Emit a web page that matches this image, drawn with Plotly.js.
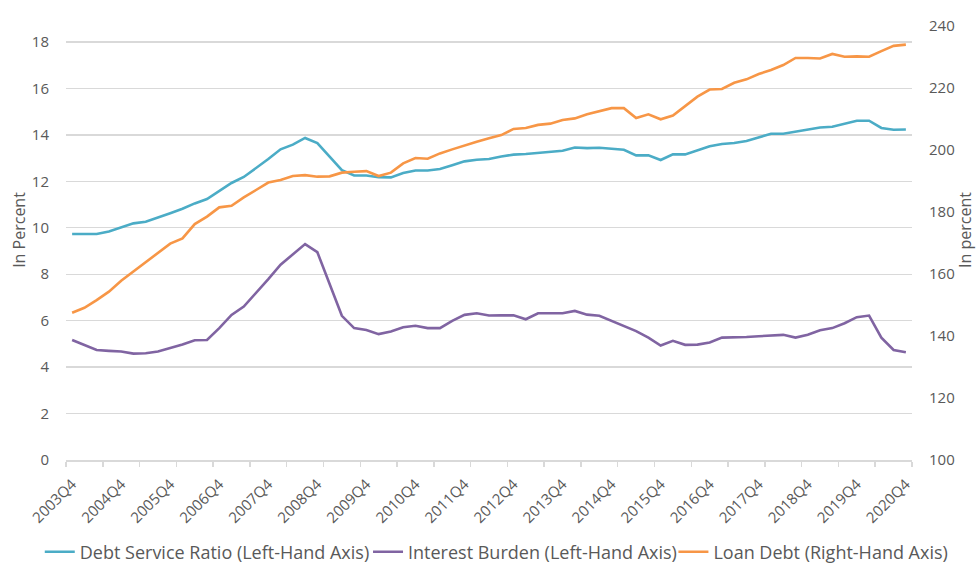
<!DOCTYPE html>
<html>
<head>
<meta charset="utf-8">
<script src="https://cdn.plot.ly/plotly-3.0.1.min.js"></script>
<style>html,body{margin:0;padding:0;background:#fff;}#chart{width:976px;height:563px;}</style>
</head>
<body>
<div id="chart"></div>
<script>
const quarters = [
  '2003Q4',
  '2004Q1','2004Q2','2004Q3','2004Q4',
  '2005Q1','2005Q2','2005Q3','2005Q4',
  '2006Q1','2006Q2','2006Q3','2006Q4',
  '2007Q1','2007Q2','2007Q3','2007Q4',
  '2008Q1','2008Q2','2008Q3','2008Q4',
  '2009Q1','2009Q2','2009Q3','2009Q4',
  '2010Q1','2010Q2','2010Q3','2010Q4',
  '2011Q1','2011Q2','2011Q3','2011Q4',
  '2012Q1','2012Q2','2012Q3','2012Q4',
  '2013Q1','2013Q2','2013Q3','2013Q4',
  '2014Q1','2014Q2','2014Q3','2014Q4',
  '2015Q1','2015Q2','2015Q3','2015Q4',
  '2016Q1','2016Q2','2016Q3','2016Q4',
  '2017Q1','2017Q2','2017Q3','2017Q4',
  '2018Q1','2018Q2','2018Q3','2018Q4',
  '2019Q1','2019Q2','2019Q3','2019Q4',
  '2020Q1','2020Q2','2020Q3','2020Q4'
];

const tickLabels = ['2003Q4','2004Q4','2005Q4','2006Q4','2007Q4','2008Q4','2009Q4','2010Q4','2011Q4',
  '2012Q4','2013Q4','2014Q4','2015Q4','2016Q4','2017Q4','2018Q4','2019Q4','2020Q4'];

const debtServiceRatio = [
  9.73, 9.74, 9.73, 9.84, 10.01, 10.19, 10.26, 10.46, 10.63, 10.82,
  11.05, 11.24, 11.57, 11.93, 12.19, 12.57, 12.96, 13.38, 13.58, 13.87,
  13.65, 13.07, 12.48, 12.25, 12.25, 12.18, 12.17, 12.36, 12.47, 12.47,
  12.53, 12.69, 12.86, 12.93, 12.96, 13.07, 13.15, 13.18, 13.22, 13.26,
  13.32, 13.46, 13.43, 13.45, 13.42, 13.36, 13.12, 13.12, 12.92, 13.16,
  13.16, 13.32, 13.51, 13.61, 13.65, 13.74, 13.88, 14.05, 14.05, 14.15,
  14.22, 14.32, 14.35, 14.48, 14.61, 14.61, 14.30, 14.22, 14.23
];

const interestBurden = [
  5.17, 4.94, 4.74, 4.70, 4.67, 4.58, 4.60, 4.67, 4.81, 4.97,
  5.16, 5.17, 5.68, 6.25, 6.61, 7.18, 7.79, 8.41, 8.84, 9.30,
  8.95, 7.61, 6.21, 5.68, 5.60, 5.42, 5.53, 5.72, 5.78, 5.68,
  5.68, 5.99, 6.25, 6.32, 6.22, 6.23, 6.23, 6.06, 6.32, 6.32,
  6.32, 6.42, 6.26, 6.21, 6.00, 5.77, 5.55, 5.27, 4.93, 5.13,
  4.96, 4.97, 5.06, 5.27, 5.27, 5.30, 5.33, 5.37, 5.39, 5.27,
  5.39, 5.59, 5.68, 5.89, 6.15, 6.22, 5.27, 4.74, 4.64
];

const loanDebt = [
  147.5, 149.1, 151.6, 154.3, 157.8, 160.8, 163.8, 166.7, 169.8, 171.5,
  176.1, 178.5, 181.5, 182.0, 184.7, 187.1, 189.5, 190.3, 191.6, 191.9,
  191.4, 191.5, 192.7, 193.0, 193.2, 191.6, 192.7, 195.7, 197.4, 197.2,
  198.9, 200.2, 201.5, 202.7, 203.8, 204.8, 206.8, 207.1, 208.1, 208.5,
  209.7, 210.2, 211.5, 212.6, 213.5, 213.5, 210.3, 211.5, 209.9, 211.1,
  214.0, 217.2, 219.5, 219.7, 221.7, 222.8, 224.5, 225.8, 227.4, 229.7,
  229.7, 229.5, 231.0, 230.1, 230.2, 230.1, 231.9, 233.6, 234.0
];

const seriesNames = ['Debt Service Ratio (Left-Hand Axis)', 'Interest Burden (Left-Hand Axis)', 'Loan Debt (Right-Hand Axis)'];
const seriesColors = ['#4BACC6', '#8064A2', '#F79646'];

const xIdx = quarters.map((q, i) => i);
const tickIdx = tickLabels.map(l => quarters.indexOf(l));
// tick marks sit between categories, every third category boundary
const tickMarkPos = [];
for (let k = 0; k * 3 <= quarters.length; k++) tickMarkPos.push(k * 3 - 0.5);

const font = 'Open Sans, Lato, Liberation Sans, sans-serif';
const textColor = '#595959';
const gridColor = '#d9d9d9';

const traces = [
  {x: xIdx, y: debtServiceRatio, text: quarters, name: seriesNames[0], type: 'scatter', mode: 'lines',
   line: {color: seriesColors[0], width: 2.6}, yaxis: 'y', legend: 'legend'},
  {x: xIdx, y: interestBurden, text: quarters, name: seriesNames[1], type: 'scatter', mode: 'lines',
   line: {color: seriesColors[1], width: 2.6}, yaxis: 'y', legend: 'legend2'},
  {x: xIdx, y: loanDebt, text: quarters, name: seriesNames[2], type: 'scatter', mode: 'lines',
   line: {color: seriesColors[2], width: 2.6}, yaxis: 'y2', legend: 'legend3'}
];

const legendBase = {orientation: 'h', xanchor: 'left', y: -0.2, yanchor: 'middle',
  font: {family: font, size: 18, color: textColor}, itemclick: false, bgcolor: 'rgba(0,0,0,0)'};

const layout = {
  width: 976, height: 563,
  margin: {l: 66, r: 64, t: 0, b: 103, autoexpand: false},
  paper_bgcolor: '#ffffff', plot_bgcolor: '#ffffff',
  font: {family: font, color: textColor, size: 15},
  showlegend: true,
  legend: Object.assign({}, legendBase, {x: -0.031}),
  legend2: Object.assign({}, legendBase, {x: 0.357}),
  legend3: Object.assign({}, legendBase, {x: 0.718}),
  xaxis: {
    range: [-0.5, quarters.length - 0.5], automargin: false,
    tickmode: 'array', tickvals: tickIdx, ticktext: tickLabels, tickangle: -45,
    ticks: 'outside', ticklen: 8, tickcolor: 'rgba(0,0,0,0)',
    tickfont: {family: font, size: 15, color: textColor},
    showline: true, linecolor: gridColor, linewidth: 1.5,
    showgrid: false, zeroline: false, fixedrange: true,
    minor: {tickmode: 'array', tickvals: tickMarkPos, ticks: 'outside', ticklen: 5,
      tickcolor: gridColor, tickwidth: 1.5, showgrid: false}
  },
  yaxis: {
    range: [0, 19.81], tickmode: 'array', tickvals: [0, 2, 4, 6, 8, 10, 12, 14, 16, 18], automargin: false,
    showgrid: true, gridcolor: gridColor, gridwidth: 1.3,
    zeroline: false, showline: false,
    ticks: 'outside', ticklen: 13, tickcolor: 'rgba(0,0,0,0)',
    tickfont: {family: font, size: 15, color: textColor},
    title: {text: 'In Percent', font: {family: font, size: 16, color: textColor}, standoff: 2},
    fixedrange: true
  },
  yaxis2: {
    range: [100, 248.39], tickmode: 'array', tickvals: [100, 120, 140, 160, 180, 200, 220, 240], automargin: false,
    overlaying: 'y', side: 'right',
    showgrid: false, zeroline: false, showline: false,
    ticks: 'outside', ticklen: 13, tickcolor: 'rgba(0,0,0,0)',
    tickfont: {family: font, size: 15, color: textColor},
    title: {text: 'In percent', font: {family: font, size: 16, color: textColor}, standoff: 8},
    fixedrange: true
  }
};

Plotly.newPlot('chart', traces, layout, {displayModeBar: false, staticPlot: true});
</script>
</body>
</html>
